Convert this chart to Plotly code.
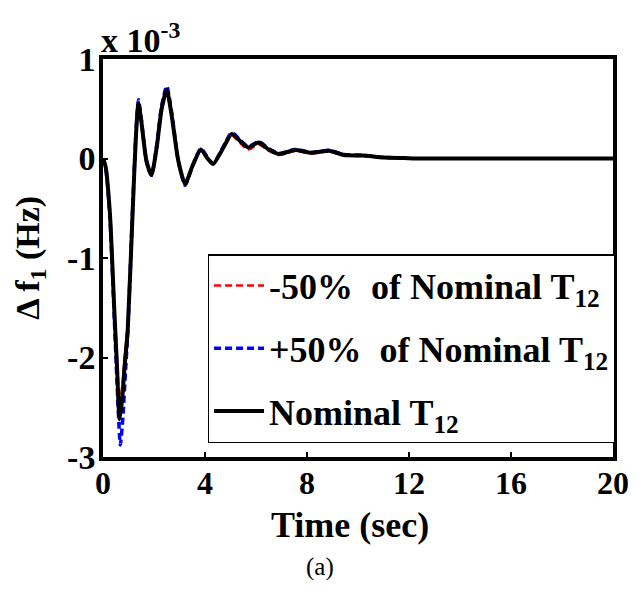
import plotly.graph_objects as go

# ---- data (values in units of 1e-3 Hz) ----
t_nom = [0, 0.1, 0.27, 0.45, 0.55, 0.65, 0.75, 0.85, 0.97, 1.16, 1.29, 1.39, 1.5, 1.7, 1.9,
         2.1, 2.3, 2.5, 2.7, 2.95, 3.22, 3.5, 3.84, 4.1, 4.32, 4.7, 5.05, 5.4, 5.69, 6.1,
         6.5, 6.9, 7.53, 8.17, 8.87, 9.45, 10.2, 11.0, 11.8, 12.5, 14, 16, 18, 20]
f_nom = [0, -0.08, -0.55, -1.56, -2.1, -2.62, -2.42, -2.08, -1.72, -0.55, 0.22, 0.555, 0.38,
         -0.02, -0.166, 0.1, 0.5, 0.69, 0.42, -0.02, -0.256, -0.08, 0.09, 0.0, -0.055, 0.1,
         0.246, 0.17, 0.11, 0.16, 0.09, 0.045, 0.085, 0.058, 0.078, 0.035, 0.03, 0.01, 0.005,
         0, 0, 0, 0, 0]

t_minus = [0, 0.1, 0.27, 0.45, 0.55, 0.65, 0.75, 0.85, 0.97, 1.16, 1.29, 1.39, 1.5, 1.7, 1.9,
           2.1, 2.3, 2.5, 2.7, 2.95, 3.22, 3.5, 3.84, 4.1, 4.32, 4.7, 5.05, 5.4, 5.69, 6.1,
           6.5, 6.9, 7.53, 8.17, 8.87, 9.45, 10.2, 11.0, 11.8]
f_minus = [0, -0.08, -0.52, -1.5, -2.0, -2.45, -2.3, -2.0, -1.66, -0.55, 0.2, 0.53, 0.36,
           -0.03, -0.17, 0.08, 0.48, 0.66, 0.4, -0.03, -0.25, -0.08, 0.08, 0.0, -0.06, 0.09,
           0.23, 0.15, 0.09, 0.14, 0.08, 0.035, 0.075, 0.05, 0.07, 0.03, 0.025, 0.01, 0.005]

t_plus = [0, 0.1, 0.27, 0.45, 0.55, 0.68, 0.78, 0.88, 0.97, 1.16, 1.29, 1.39, 1.5, 1.7, 1.9,
          2.1, 2.3, 2.5, 2.7, 2.95, 3.22, 3.5, 3.84, 4.1, 4.32, 4.7, 5.05, 5.4, 5.69, 6.1,
          6.5, 6.9, 7.53, 8.17, 8.87, 9.45, 10.2, 11.0, 11.8]
f_plus = [0, -0.08, -0.58, -1.65, -2.25, -2.88, -2.6, -2.15, -1.75, -0.52, 0.25, 0.59, 0.4,
          -0.02, -0.17, 0.12, 0.53, 0.73, 0.45, -0.02, -0.27, -0.08, 0.1, 0.01, -0.05, 0.11,
          0.26, 0.18, 0.12, 0.17, 0.1, 0.05, 0.09, 0.062, 0.082, 0.04, 0.032, 0.012, 0.005]

x_ticks = [0, 4, 8, 12, 16, 20]
x_ticktext = ["0", "4", "8", "12", "16", "20"]
y_ticks = [-3, -2, -1, 0, 1]
y_ticktext = ["-3", "-2", "-1", "0", "1"]

names = ["-50%  of Nominal T<sub>12</sub>", "+50%  of Nominal T<sub>12</sub>", "Nominal T<sub>12</sub>"]

FONT = "Liberation Serif"

fig = go.Figure()
fig.add_trace(go.Scatter(x=t_minus, y=f_minus, mode="lines", name=names[0], legendgroup="a",
                         line=dict(color="#ff0000", width=2.5, dash="7px,4px", shape="spline", smoothing=0.6)))
fig.add_trace(go.Scatter(x=t_plus, y=f_plus, mode="lines", name=names[1], legendgroup="b",
                         line=dict(color="#0000ff", width=3.5, dash="7px,4px", shape="spline", smoothing=0.6)))
fig.add_trace(go.Scatter(x=t_nom, y=f_nom, mode="lines", name=names[2], legendgroup="c",
                         line=dict(color="#000000", width=4, shape="spline", smoothing=0.6)))

W, H = 641, 591
L, R, T, B = 103, 16, 59, 134
pw, ph = W - L - R, H - T - B

def px(x):
    return (x - L) / pw

def py(y):
    return (H - B - y) / ph

fig.update_layout(
    width=W, height=H,
    margin=dict(l=L, r=R, t=T, b=B, pad=0),
    paper_bgcolor="white", plot_bgcolor="white",
    font=dict(family=FONT, size=32, color="black", weight="bold"),
    showlegend=True,
    legend=dict(x=px(210), y=py(254), xanchor="left", yanchor="top",
                bgcolor="white", bordercolor="black", borderwidth=1.5,
                font=dict(family=FONT, size=36, color="black", weight="bold"),
                tracegroupgap=13, itemwidth=50),
    xaxis=dict(range=[0, 20], tickmode="array", tickvals=x_ticks, ticktext=x_ticktext,
               ticks="inside", ticklen=5, tickwidth=2, tickcolor="black",
               showline=True, linecolor="black", linewidth=3.5, mirror=True,
               showgrid=False, zeroline=False, ticklabelstandoff=-5,
               tickfont=dict(family=FONT, size=32, weight="bold")),
    yaxis=dict(range=[-3, 1], tickmode="array", tickvals=y_ticks, ticktext=y_ticktext,
               ticks="inside", ticklen=5, tickwidth=2, tickcolor="black",
               showline=True, linecolor="black", linewidth=3.5, mirror=True,
               showgrid=False, zeroline=False, ticklabelstandoff=-3,
               tickfont=dict(family=FONT, size=34, weight="bold")),
)

fig.add_annotation(text="x 10<sup>-3</sup>", xref="paper", yref="paper",
                   x=0, y=1, xanchor="left", yanchor="bottom", yshift=-2, xshift=-4,
                   showarrow=False, font=dict(family=FONT, size=34, weight="bold"))
fig.add_annotation(text="Δ f<sub>1</sub> (Hz)", xref="paper", yref="paper",
                   x=px(28), y=0.5, xanchor="center", yanchor="middle", textangle=-90,
                   showarrow=False, font=dict(family=FONT, size=34, weight="bold"))
fig.add_annotation(text="Time (sec)", xref="paper", yref="paper",
                   x=px(356), y=py(525), xanchor="center", yanchor="middle",
                   showarrow=False, font=dict(family=FONT, size=36, weight="bold"))
fig.add_annotation(text="(a)", xref="paper", yref="paper",
                   x=px(325), y=py(567), xanchor="center", yanchor="middle",
                   showarrow=False, font=dict(family=FONT, size=25, weight="normal"))

fig.write_html("out.html")
